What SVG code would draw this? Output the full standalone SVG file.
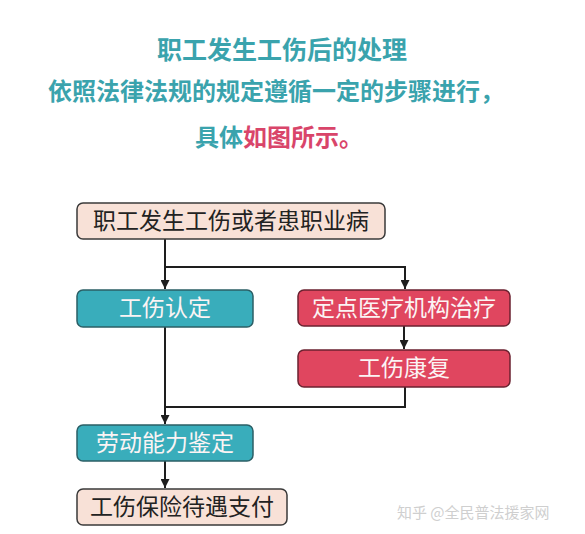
<svg xmlns="http://www.w3.org/2000/svg" width="585" height="534" viewBox="0 0 585 534">
<defs>
<style>
text{font-family:"Noto Sans CJK SC","Noto Sans",sans-serif;text-anchor:middle}
.title{font-size:24px;font-weight:bold;fill:#3aa3ad}
.big{font-size:25px}
.red{fill:#d9456a}
.lbl{font-size:23px;fill:#222}
.wl{font-size:23px;fill:#fbf4f4}
.peach{fill:#f8e1d7;stroke:#3a3a3a;stroke-width:1.5}
.teal{fill:#39adbb;stroke:#2b5f66;stroke-width:1.5}
.rose{fill:#e0465f;stroke:#6b2230;stroke-width:1.5}
.conn{fill:none;stroke:#1e1e1e;stroke-width:2}
.wm{font-size:15px;fill:#cfcfcf;text-anchor:start}
</style>
<marker id="ah" viewBox="0 0 10 10" refX="10" refY="5" markerWidth="4.5" markerHeight="4.5" orient="auto" markerUnits="strokeWidth">
<path d="M0,0 L10,5 L0,10 z" fill="#1e1e1e"/>
</marker>
</defs>
<rect width="585" height="534" fill="#ffffff"/>
<g id="heading">
<text class="title big" x="282" y="59">职工发生工伤后的处理</text>
<text class="title" x="276" y="100">依照法律法规的规定遵循一定的步骤进行，</text>
<text class="title" x="279" y="146">具体<tspan class="red">如图所示。</tspan></text>
</g>
<g id="connectors">
<path class="conn" d="M165 239 V289" marker-end="url(#ah)"/>
<path class="conn" d="M165 267 H405 V289" marker-end="url(#ah)"/>
<path class="conn" d="M404 326 V349" marker-end="url(#ah)"/>
<path class="conn" d="M405 387 V407 H165"/>
<path class="conn" d="M165 327 V424" marker-end="url(#ah)"/>
<path class="conn" d="M165 461 V488" marker-end="url(#ah)"/>
</g>
<g id="n1">
<rect class="peach" x="77" y="203" width="308" height="36" rx="6"/>
<text class="lbl" x="231" y="229">职工发生工伤或者患职业病</text>
</g>
<g id="n2">
<rect class="teal" x="77" y="290" width="176" height="37" rx="6"/>
<text class="wl" x="165" y="316">工伤认定</text>
</g>
<g id="n3">
<rect class="rose" x="298" y="290" width="212" height="36" rx="6"/>
<text class="wl" x="404" y="316">定点医疗机构治疗</text>
</g>
<g id="n4">
<rect class="rose" x="298" y="350" width="212" height="37" rx="6"/>
<text class="wl" x="404" y="376">工伤康复</text>
</g>
<g id="n5">
<rect class="teal" x="77" y="425" width="176" height="36" rx="6"/>
<text class="wl" x="165" y="451">劳动能力鉴定</text>
</g>
<g id="n6">
<rect class="peach" x="77" y="489" width="210" height="36" rx="6"/>
<text class="lbl" x="182" y="515">工伤保险待遇支付</text>
</g>
<text class="wm" x="397" y="518">知乎 @全民普法援家网</text>
</svg>
